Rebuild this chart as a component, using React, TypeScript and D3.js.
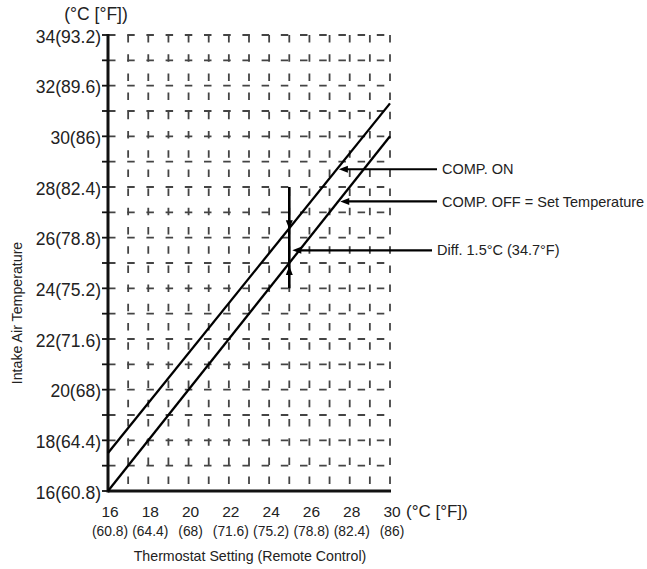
import React from 'react';
import * as d3 from 'd3';

const xTicks = [16, 18, 20, 22, 24, 26, 28, 30];
const xTickF = ['(60.8)', '(64.4)', '(68)', '(71.6)', '(75.2)', '(78.8)', '(82.4)', '(86)'];
const yTicks = [16, 18, 20, 22, 24, 26, 28, 30, 32, 34];
const yTickLabels = ['16(60.8)', '18(64.4)', '20(68)', '22(71.6)', '24(75.2)', '26(78.8)', '28(82.4)', '30(86)', '32(89.6)', '34(93.2)'];
const yMinorTicks = [16, 17, 18, 19, 20, 21, 22, 23, 24, 25, 26, 27, 28, 29, 30, 31, 32, 33, 34];
const gridX = [17, 18, 19, 20, 21, 22, 23, 24, 25, 26, 27, 28, 29, 30];
const gridY = [17, 18, 19, 20, 21, 22, 23, 24, 25, 26, 27, 28, 29, 30, 31, 32, 33, 34];

const onLine: [number, number][] = [[16, 17.5], [30, 31.3]];
const offLine: [number, number][] = [[16, 16], [30, 30]];
const diffBar = { t: 25, from: 24, to: 28 };
const annotations = [
  { label: 'COMP. ON', v: 28.7, target: 'on' },
  { label: 'COMP. OFF = Set Temperature', v: 27.43, target: 'off' },
  { label: 'Diff. 1.5°C (34.7°F)', v: 25.5, target: 'bar' },
];

const W = 647;
const H = 569;
const FONT = '"Liberation Sans", Arial, sans-serif';
const TXT = '#222';

export default function App() {
  const x = d3.scaleLinear().domain([16, 30]).range([108, 390]);
  const y = d3.scaleLinear().domain([16, 34]).range([491, 35]);
  const line = d3.line<[number, number]>().x(d => x(d[0])).y(d => y(d[1]));

  const tAt = (ln: [number, number][], v: number) =>
    ln[0][0] + ((v - ln[0][1]) * (ln[1][0] - ln[0][0])) / (ln[1][1] - ln[0][1]);
  const vAt = (ln: [number, number][], t: number) =>
    ln[0][1] + ((t - ln[0][0]) * (ln[1][1] - ln[0][1])) / (ln[1][0] - ln[0][0]);

  const dash = '7.5 11.7';
  const gridColor = '#444';
  const bx = x(diffBar.t);
  const onY = y(vAt(onLine, diffBar.t));
  const offY = y(vAt(offLine, diffBar.t));
  const tail = 437;
  const ah = 9;
  const aw = 3.5;

  return (
    <svg width={W} height={H} style={{ position: 'absolute', left: 0, top: 0, background: '#fff' }}>
      <rect x={0} y={0} width={W} height={H} fill="#fff" />
      {/* grid */}
      {gridX.map(t => (
        <line key={'gx' + t} x1={x(t)} x2={x(t)} y1={y(34)} y2={y(16)} stroke={gridColor} strokeWidth={1.8} strokeDasharray={dash} />
      ))}
      {gridY.map(v => (
        <line key={'gy' + v} x1={x(16)} x2={x(30)} y1={y(v)} y2={y(v)} stroke={gridColor} strokeWidth={1.8} strokeDasharray={dash} />
      ))}
      {/* y ticks */}
      {yMinorTicks.map(v => (
        <line key={'yt' + v} x1={x(16) - 6} x2={x(16)} y1={y(v)} y2={y(v)} stroke="#111" strokeWidth={1.8} />
      ))}
      {/* axes */}
      <line x1={x(16)} x2={x(16)} y1={y(34) - 1} y2={y(16) + 1.5} stroke="#111" strokeWidth={3} />
      <line x1={x(16)} x2={x(30) + 1} y1={y(16)} y2={y(16)} stroke="#111" strokeWidth={3} />
      {/* main lines */}
      <path d={line(onLine) || ''} stroke="#000" strokeWidth={2.3} fill="none" />
      <path d={line(offLine) || ''} stroke="#000" strokeWidth={2.3} fill="none" />
      {/* diff bar */}
      <line x1={bx} x2={bx} y1={y(diffBar.to)} y2={y(diffBar.from)} stroke="#000" strokeWidth={2.6} />
      <polygon points={`${bx},${onY + 1} ${bx - aw},${onY + 1 - ah} ${bx + aw},${onY + 1 - ah}`} fill="#000" />
      <polygon points={`${bx},${offY + 3} ${bx - aw},${offY + 3 + ah} ${bx + aw},${offY + 3 + ah}`} fill="#000" />
      {/* annotation arrows */}
      {annotations.map(a => {
        const yy = y(a.v);
        const tip = a.target === 'on' ? x(tAt(onLine, a.v)) + 2 : a.target === 'off' ? x(tAt(offLine, a.v)) + 2 : bx + 3;
        const end = a.target === 'bar' ? tail - 5 : tail;
        return (
          <g key={a.label}>
            <line x1={tip + ah - 1} x2={end} y1={yy} y2={yy} stroke="#000" strokeWidth={2.2} />
            <polygon points={`${tip},${yy} ${tip + ah},${yy - aw} ${tip + ah},${yy + aw}`} fill="#000" />
            <text x={a.target === 'bar' ? tail : tail + 5} y={yy} dy="0.35em" fontFamily={FONT} fontSize={14.5} fill={TXT}>
              {a.label}
            </text>
          </g>
        );
      })}
      {/* y labels */}
      {yTicks.map((v, i) => (
        <text key={'yl' + v} x={101} y={y(v) + 1.5} dy="0.36em" textAnchor="end" fontFamily={FONT} fontSize={17.5} fill={TXT}>
          {yTickLabels[i]}
        </text>
      ))}
      <text x={96} y={20} textAnchor="middle" fontFamily={FONT} fontSize={17.5} fill={TXT}>(°C [°F])</text>
      {/* x labels */}
      {xTicks.map((t, i) => (
        <g key={'xl' + t}>
          <text x={x(t) + 2} y={517} textAnchor="middle" fontFamily={FONT} fontSize={15.5} fill={TXT}>{t}</text>
          <text x={x(t) + 2} y={536} textAnchor="middle" fontFamily={FONT} fontSize={13.8} fill={TXT}>{xTickF[i]}</text>
        </g>
      ))}
      <text x={406} y={517} fontFamily={FONT} fontSize={17} fill={TXT}>(°C [°F])</text>
      <text x={250} y={561} textAnchor="middle" fontFamily={FONT} fontSize={14.2} fill={TXT}>Thermostat Setting (Remote Control)</text>
      <text transform="translate(22,313) rotate(-90)" textAnchor="middle" fontFamily={FONT} fontSize={14.2} fill={TXT}>Intake Air Temperature</text>
    </svg>
  );
}
